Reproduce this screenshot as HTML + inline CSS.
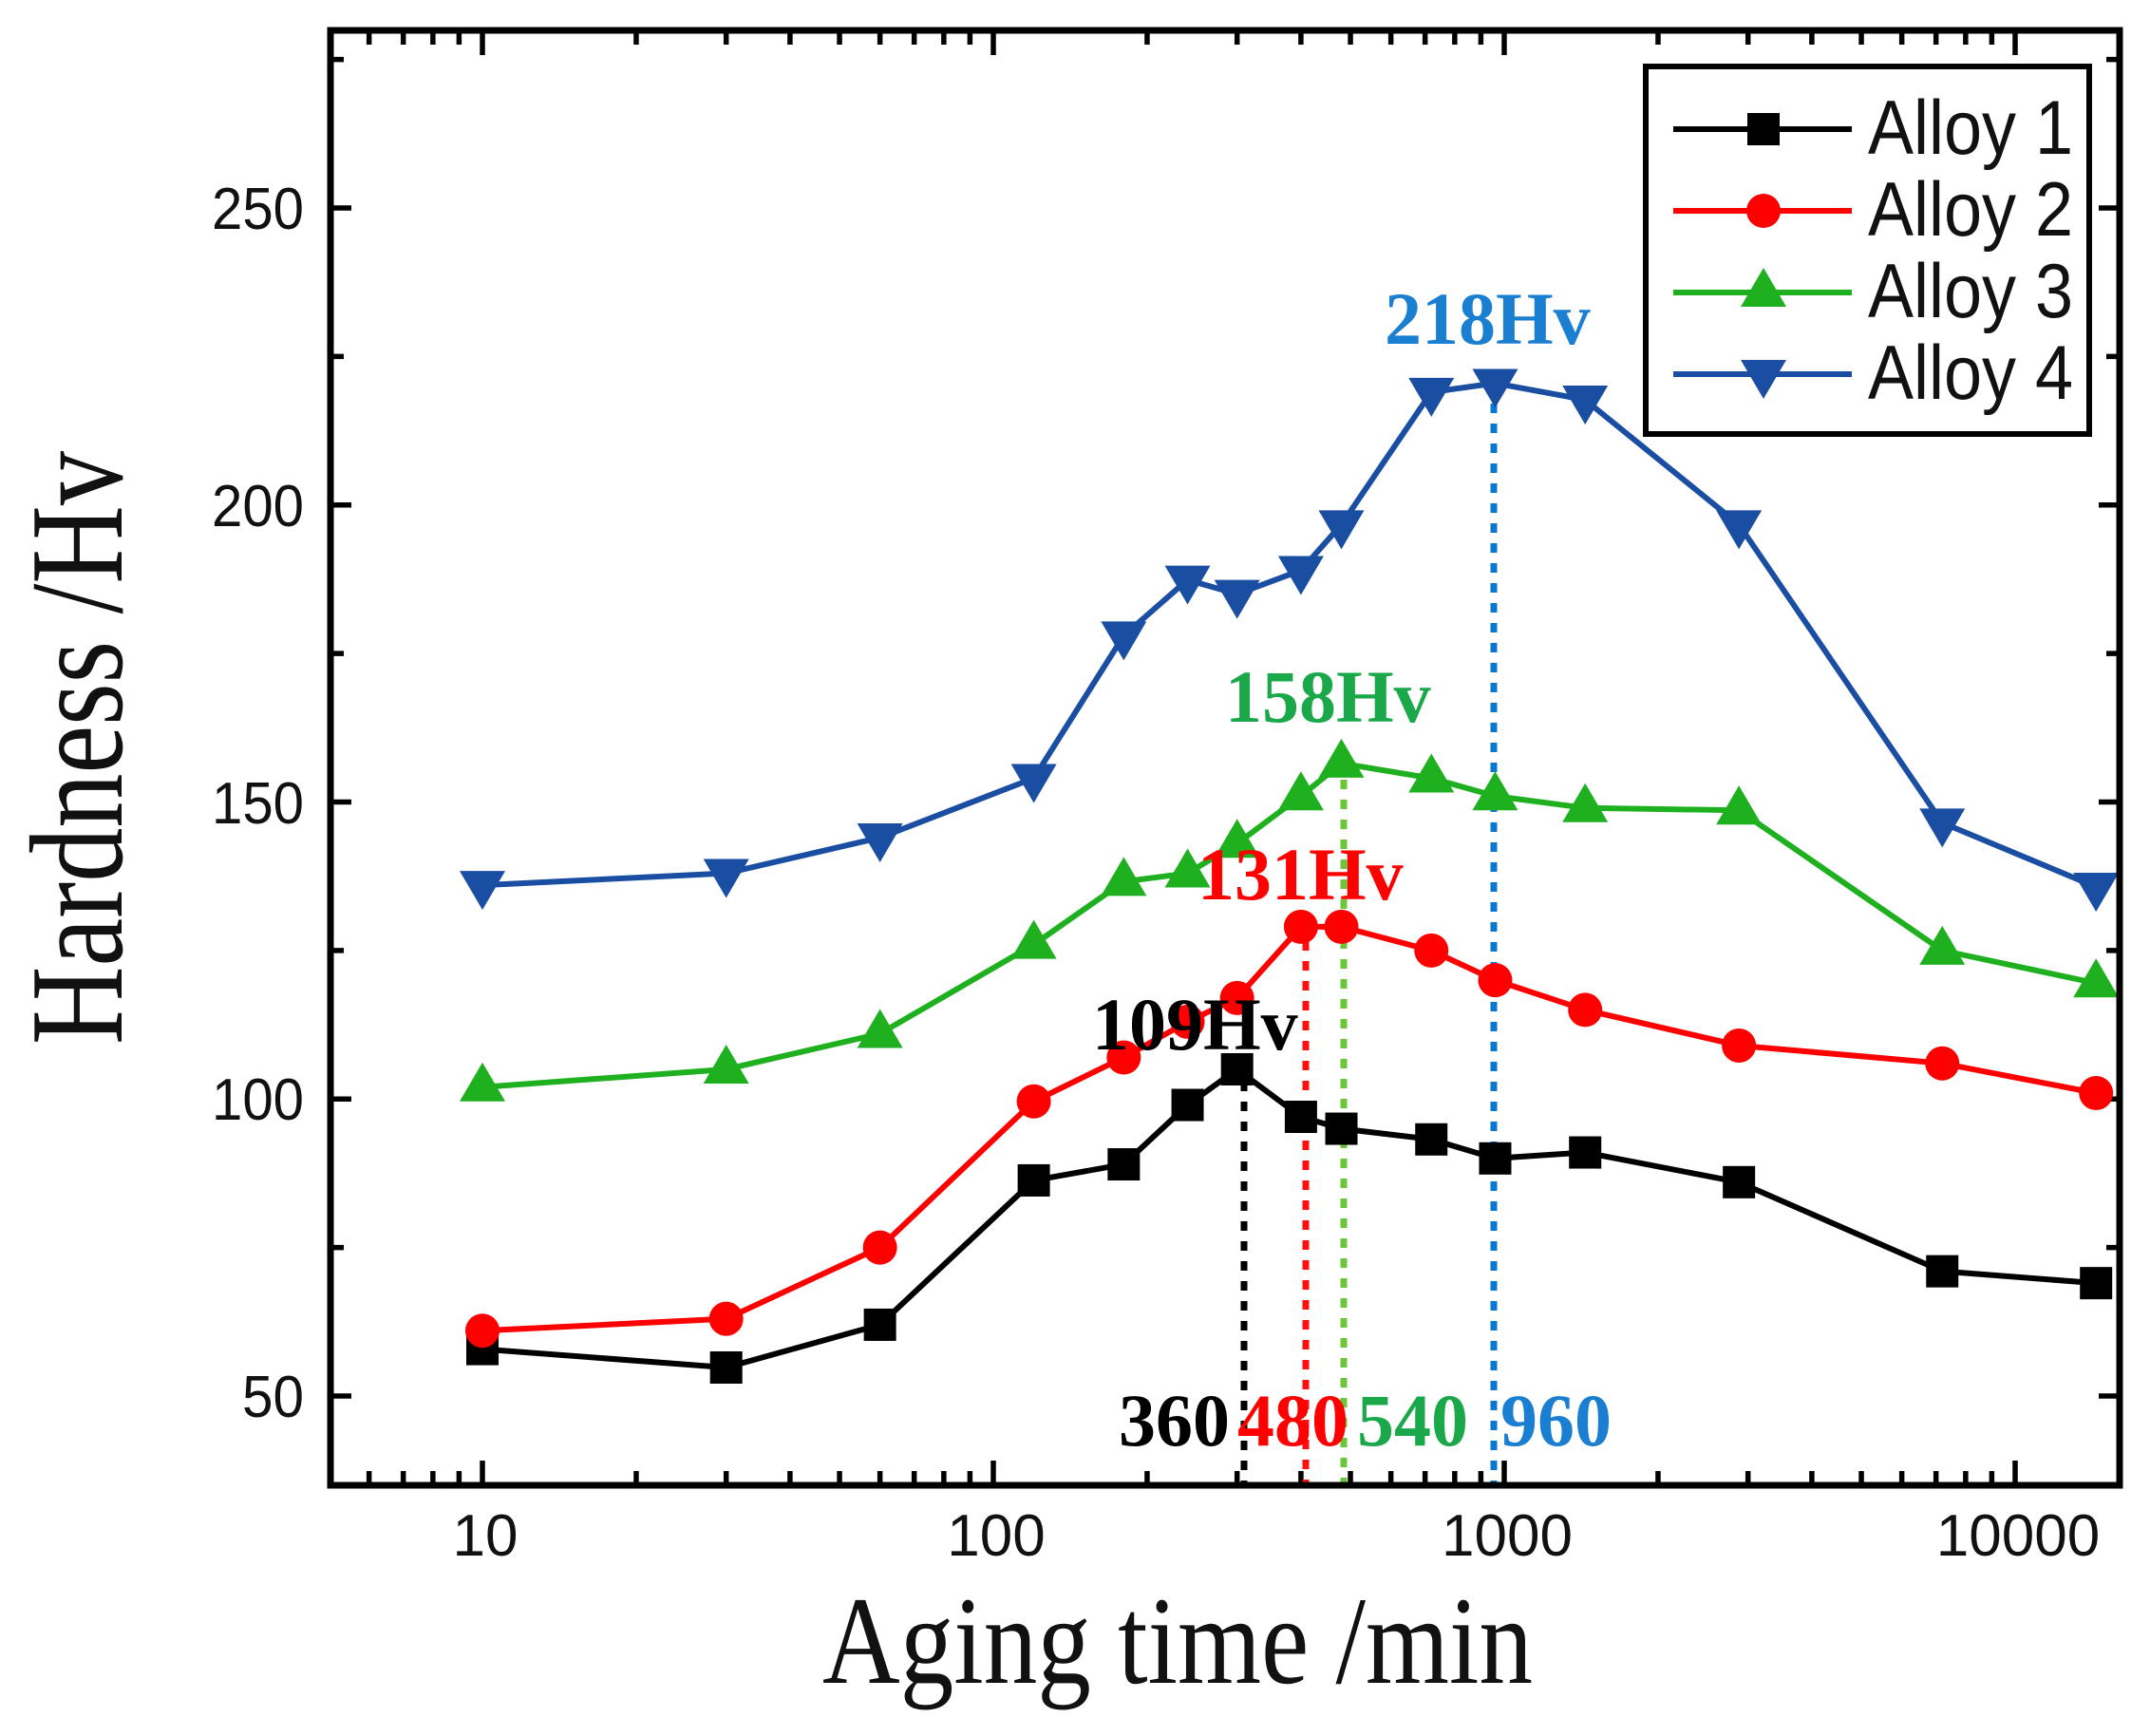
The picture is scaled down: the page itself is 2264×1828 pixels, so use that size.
<!DOCTYPE html>
<html><head><meta charset="utf-8"><style>html,body{margin:0;padding:0;background:#fff}svg{display:block}</style></head>
<body>
<svg id="s" width="2264" height="1828" viewBox="0 0 2264 1828" xmlns="http://www.w3.org/2000/svg">
<g id="plot"></g>
<rect x="348" y="32" width="1884" height="1532" fill="none" stroke="#000" stroke-width="7"/>
<g font-family="Liberation Sans, Arial, sans-serif" font-size="62" fill="#111" text-anchor="end">
<text x="320" y="241" textLength="97" lengthAdjust="spacingAndGlyphs">250</text>
<text x="320" y="554" textLength="97" lengthAdjust="spacingAndGlyphs">200</text>
<text x="320" y="867" textLength="97" lengthAdjust="spacingAndGlyphs">150</text>
<text x="320" y="1179" textLength="97" lengthAdjust="spacingAndGlyphs">100</text>
<text x="320" y="1492" textLength="65" lengthAdjust="spacingAndGlyphs">50</text>
</g>
<g font-family="Liberation Sans, Arial, sans-serif" font-size="62" fill="#111" text-anchor="middle">
<text x="511" y="1638">10</text>
<text x="1049" y="1638">100</text>
<text x="1587" y="1638">1000</text>
<text x="2125" y="1638">10000</text>
</g>
<text x="866" y="1772" font-family="Liberation Serif, Times New Roman, serif" font-size="132" textLength="748" lengthAdjust="spacingAndGlyphs" fill="#111">Aging time /min</text>
<text transform="translate(128,1100) rotate(-90)" font-family="Liberation Serif, Times New Roman, serif" font-size="140" textLength="625" lengthAdjust="spacingAndGlyphs" fill="#111">Hardness /Hv</text>
<g font-family="Liberation Serif, Times New Roman, serif" font-weight="bold" font-size="78">
<text x="1458" y="362" fill="#1a7fd0">218Hv</text>
<text x="1290" y="760" fill="#1aa84a">158Hv</text>
<text x="1261" y="947" fill="#ff0000">131Hv</text>
<text x="1150" y="1105" fill="#000">109Hv</text>
<text x="1178" y="1522" fill="#000">360</text>
<text x="1303" y="1522" fill="#ff0000">480</text>
<text x="1429" y="1522" fill="#1aa84a">540</text>
<text x="1580" y="1522" fill="#1a7fd0">960</text>
</g>
<rect x="1733" y="70" width="467" height="387" fill="#fff" stroke="#000" stroke-width="6"/>
<g id="leg"></g>
<g font-family="Liberation Sans, Arial, sans-serif" font-size="81" fill="#111">
<text x="1967" y="162" textLength="216" lengthAdjust="spacingAndGlyphs">Alloy 1</text>
<text x="1967" y="248" textLength="216" lengthAdjust="spacingAndGlyphs">Alloy 2</text>
<text x="1967" y="334" textLength="216" lengthAdjust="spacingAndGlyphs">Alloy 3</text>
<text x="1967" y="420" textLength="216" lengthAdjust="spacingAndGlyphs">Alloy 4</text>
</g>
</svg>
<script>
(function(){
var NS="http://www.w3.org/2000/svg";
function el(p,t,a){var e=document.createElementNS(NS,t);for(var k in a)e.setAttribute(k,a[k]);p.appendChild(e);return e;}
var P=document.getElementById('plot'),L=document.getElementById('leg');
function X(t){return 508+(Math.log10(t)-1)*538;}
function Y(v){return 1470-(v-50)*6.255;}
var d="";
for(var v=50;v<=275;v+=25){var y=Y(v),len=(v%50==0)?22:14;d+="M348 "+y+"h"+len+"M2232 "+y+"h-"+len;}
for(var e=0;e<5;e++)for(var m=1;m<10;m++){var t=m*Math.pow(10,e);var x=X(t);if(x<350||x>2230)continue;var len=(m==1)?26:15;d+="M"+x+" 1564v-"+len+"M"+x+" 32v"+len;}
el(P,'path',{d:d,stroke:'#000','stroke-width':5.5,fill:'none'});
var dots=[[1310,1118,'#000'],[1375,970,'#ff1010'],[1415,800,'#6cc63a'],[1573,404,'#0a78d0']];
dots.forEach(function(q){el(P,'line',{x1:q[0],y1:q[1],x2:q[0],y2:1562,stroke:q[2],'stroke-width':7,'stroke-dasharray':'10 11'});});
var T=[10,30,60,120,180,240,300,400,480,720,960,1440,2880,7200,14400];
var S=[
 {c:'#000',m:'sq',v:[57.9,54.8,62,86.3,89,99,105,97,95,93.2,90,91,86,71,69]},
 {c:'#ff0000',m:'ci',v:[61,63,75,99.6,107,113,117,129,129,125,120,115,109,106,101]},
 {c:'#1fb01f',m:'tu',v:[102,105,111,126,136.6,138,143,151,156.5,154,151,149,148.6,125,119.5]},
 {c:'#1a4ea3',m:'td',v:[136,138,144,154,178,187.4,185,189,196.7,219,220.5,217.7,196.7,146.5,135.7]}];
function mk(g,type,x,y,c){
 if(type=='sq')el(g,'rect',{x:x-17,y:y-17,width:34,height:34,fill:c});
 else if(type=='ci')el(g,'circle',{cx:x,cy:y,r:18,fill:c});
 else if(type=='tu')el(g,'polygon',{points:(x-24)+','+(y+15)+' '+(x+24)+','+(y+15)+' '+x+','+(y-26),fill:c});
 else el(g,'polygon',{points:(x-24)+','+(y-15)+' '+(x+24)+','+(y-15)+' '+x+','+(y+26),fill:c});
}
S.forEach(function(s,i){
 var pts=T.map(function(t,j){return X(t)+','+Y(s.v[j]);}).join(' ');
 el(P,'polyline',{points:pts,fill:'none',stroke:s.c,'stroke-width':6,'stroke-linejoin':'round'});
 T.forEach(function(t,j){mk(P,s.m,X(t),Y(s.v[j]),s.c);});
 var ly=[136,222,308,394][i];
 el(L,'line',{x1:1762,y1:ly,x2:1950,y2:ly,stroke:s.c,'stroke-width':6});
 mk(L,s.m,1857,ly,s.c);
});
})();
</script>
</body></html>
